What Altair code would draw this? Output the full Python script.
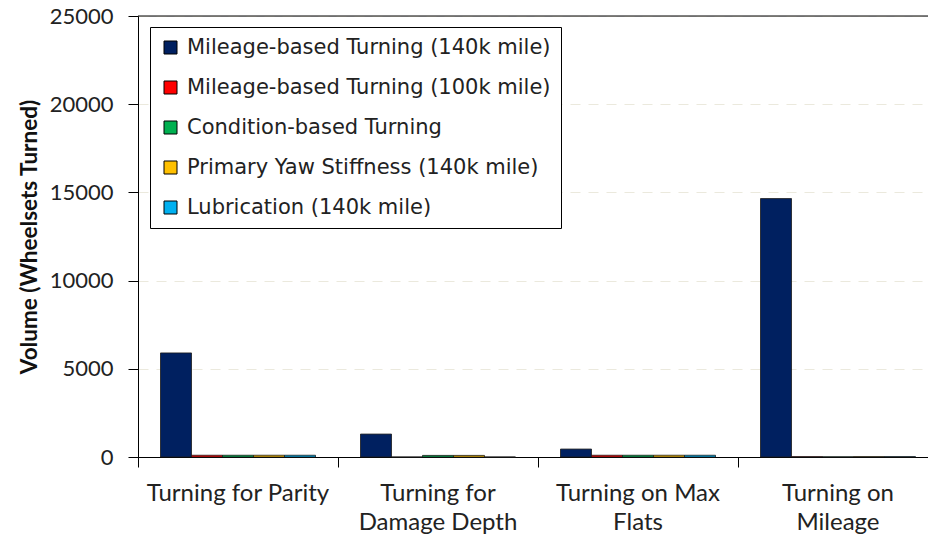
import altair as alt
import pandas as pd

# Wheelset turning volumes by reason, per maintenance strategy
categories = [
    "Turning for Parity",
    "Turning for\nDamage Depth",
    "Turning on Max\nFlats",
    "Turning on\nMileage",
]
strategies = [
    "Mileage-based Turning (140k mile)",
    "Mileage-based Turning (100k mile)",
    "Condition-based Turning",
    "Primary Yaw Stiffness (140k mile)",
    "Lubrication (140k mile)",
]
colors = ["#002060", "#FF0000", "#00B050", "#FFC000", "#00B0F0"]

mileage_140k = [5900, 1300, 450, 14650]
mileage_100k = [100, 0, 100, 20]
condition_based = [100, 90, 100, 10]
yaw_stiffness = [100, 90, 100, 20]
lubrication = [100, 0, 100, 20]

series = [mileage_140k, mileage_100k, condition_based, yaw_stiffness, lubrication]
rows = []
for name, values in zip(strategies, series):
    for cat, v in zip(categories, values):
        rows.append({"reason": cat, "strategy": name, "volume": v})
df = pd.DataFrame(rows)

PLOT_W = 790
PAD_IN = 0.225
PAD_OUT = 0.1125
# ticks sit halfway between neighbouring groups
TICK_POS = -(PAD_IN / 2) / (1 - PAD_IN)

bars = alt.Chart(df).mark_bar(stroke="#1a1a1a", strokeWidth=0.8).encode(
    x=alt.X(
        "reason:N",
        sort=categories,
        scale=alt.Scale(range=[0, 800], paddingInner=PAD_IN, paddingOuter=PAD_OUT),
        axis=alt.Axis(
            title=None,
            labelAngle=0,
            bandPosition=TICK_POS,
            tickSize=10,
            tickColor="black",
            domainColor="black",
            labelFont="Lato",
            labelFontSize=24,
            labelColor="#222222",
            labelLineHeight=29,
            labelPadding=14,
            labelLimit=300,
            labelExpr="split(datum.label, '\\n')",
            grid=False,
        ),
    ),
    xOffset=alt.XOffset("strategy:N", sort=strategies),
    y=alt.Y(
        "volume:Q",
        scale=alt.Scale(domain=[0, 25000], nice=False),
        axis=alt.Axis(
            title="Volume (Wheelsets Turned)",
            titleFont="Lato",
            titleFontSize=22.5,
            titleFontWeight="bold",
            titleColor="#111111",
            titlePadding=8,
            values=[0, 5000, 10000, 15000, 20000, 25000],
            format="d",
            tickSize=10,
            tickColor="black",
            domainColor="black",
            labelFont="Lato",
            labelFontSize=22,
            labelColor="#222222",
            labelPadding=15,
            grid=True,
            gridColor="#ebe9dd",
            gridDash=[10, 8],
            gridWidth=1,
        ),
    ),
    color=alt.Color(
        "strategy:N",
        sort=strategies,
        scale=alt.Scale(domain=strategies, range=colors),
        legend=alt.Legend(
            title=None,
            orient="none",
            legendX=12,
            legendY=11,
            fillColor="white",
            strokeColor="black",
            padding=10,
            symbolType="square",
            symbolSize=169,
            symbolStrokeColor="black",
            symbolStrokeWidth=1,
            labelFont="DejaVu Sans",
            labelFontSize=21,
            labelColor="#222222",
            labelOffset=6,
            rowPadding=18,
            labelLimit=500,
        ),
    ),
)

top_line = alt.Chart(pd.DataFrame({"a": [0]})).mark_rule(color="black", strokeWidth=1).encode(
    x=alt.value(0), x2=alt.value(PLOT_W), y=alt.value(0)
)

chart = (
    alt.layer(bars, top_line)
    .properties(
        width=PLOT_W,
        height=441,
        autosize=alt.AutoSizeParams(type="none"),
        padding={"left": 138, "top": 16, "right": 0, "bottom": 82},
    )
    .configure_view(stroke=None)
    .configure(background="white")
)

chart.save("out.html", embed_options={"renderer": "svg", "actions": False})
